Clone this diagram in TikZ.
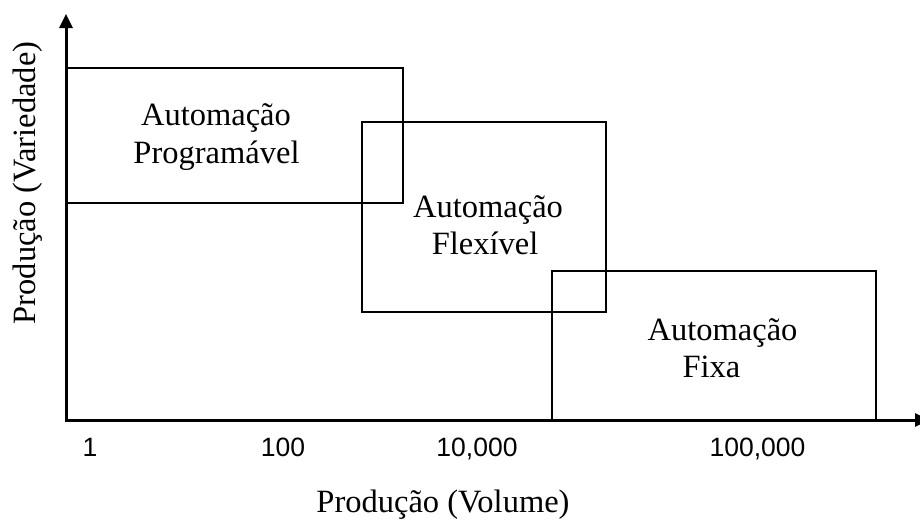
\documentclass[tikz,border=0pt]{standalone}
\usepackage{fontspec}
\setmainfont{Liberation Serif}
\newfontfamily\tickfont{Liberation Sans}
\usetikzlibrary{arrows.meta}
\begin{document}
\begin{tikzpicture}[x=1pt,y=-1pt,
  box/.style={draw=black,line width=2pt},
  axis/.style={draw=black,line width=3pt,line join=miter,
    {Triangle[length=14pt,width=13pt]}-{Triangle[length=14pt,width=13pt]}},
  lbl/.style={anchor=base,inner sep=0pt,font=\fontsize{32.5}{38}\selectfont},
  tick/.style={anchor=base,inner sep=0pt,font=\tickfont\fontsize{26.5}{30}\selectfont}]
  \useasboundingbox (0,0) rectangle (920,520);

  % category regions
  \draw[box] (66,68) rectangle (403,203);
  \draw[box] (362,122) rectangle (606,312);
  \draw[box] (552,271) rectangle (876,420);

  % axes
  \coordinate (O) at (66,420);
  \coordinate (ytip) at (66,14);
  \coordinate (xtip) at (929,420);
  \draw[axis] (ytip) -- (O) -- (xtip);

  % region labels
  \node[lbl] (prog1) at (216,125) {Automação};
  \node[lbl] (prog2) at (216.5,163) {Programável};
  \node[lbl] (flex1) at (488,217) {Automação};
  \node[lbl] (flex2) at (485,254) {Flexível};
  \node[lbl] (fixa1) at (722.5,340) {Automação};
  \node[lbl] (fixa2) at (711.5,377) {Fixa};

  % volume scale
  \node[tick] (t1) at (90,456) {1};
  \node[tick] (t2) at (283,456) {100};
  \node[tick] (t3) at (477,456) {10,000};
  \node[tick] (t4) at (757.5,456) {100,000};

  % axis titles
  \node[lbl] (xtitle) at (443,512) {Produção (Volume)};
  \node[lbl,rotate=90] (ytitle) at (35,183) {Produção (Variedade)};
\end{tikzpicture}
\end{document}
